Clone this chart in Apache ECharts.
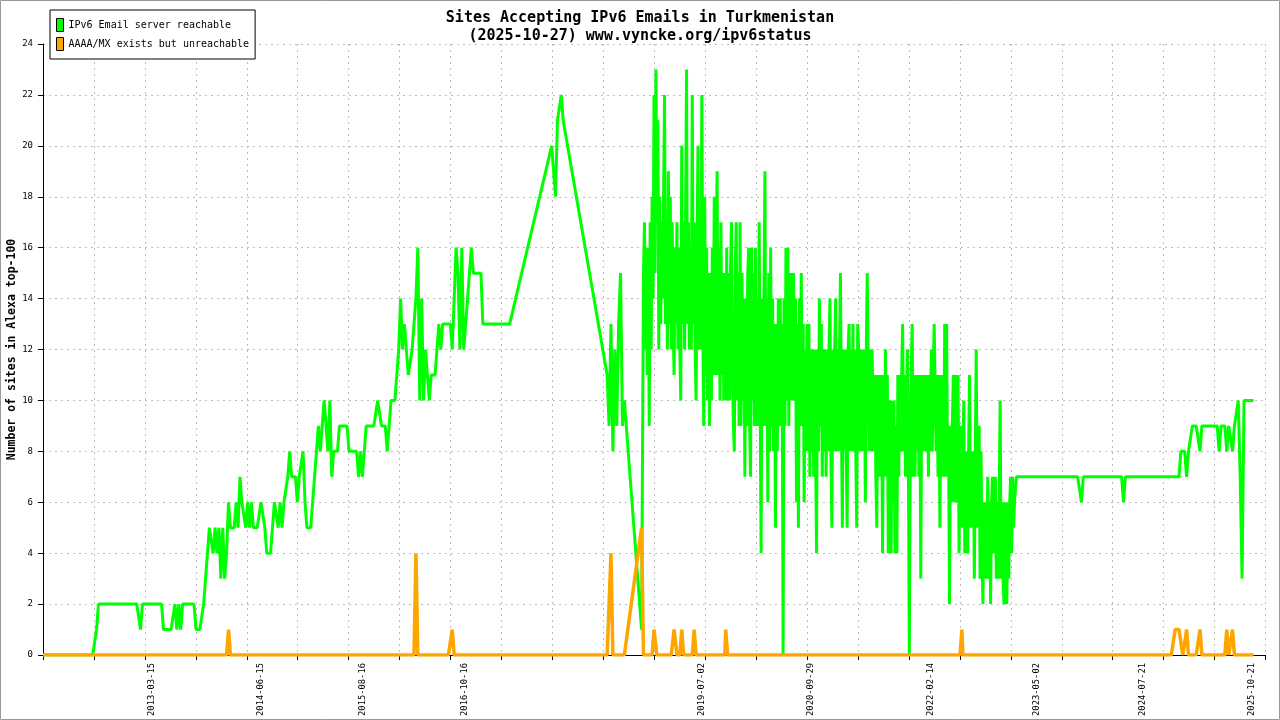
<!DOCTYPE html>
<html>
<head>
<meta charset="utf-8">
<title>Sites Accepting IPv6 Emails in Turkmenistan</title>
<script src="https://cdn.jsdelivr.net/npm/echarts@6/dist/echarts.min.js"></script>
<style>
html, body { margin: 0; padding: 0; background: #fff; }
#chart { width: 1280px; height: 720px; }
</style>
</head>
<body>
<div id="chart"></div>
<script>
// three runs of readings; null = no reading (the line is joined over the gap)
var earlyStart = '2011-12-16', earlyStep = 8;   // every 8 days
var denseStart = '2018-11-01', denseStep = 4;   // every 4 days
var lateStart = '2023-02-08', lateStep = 8;     // every 8 days
var axisStart = '2011-12-16';
var axisEnd = '2025-12-16';
var dateLabels = ['2013-03-15', '2014-06-15', '2015-08-16', '2016-10-16', '2019-07-02',
    '2020-09-29', '2022-02-14', '2023-05-02', '2024-07-21', '2025-10-21'];

// IPv6 Email server reachable
var reachEarly1 = [
    0,0,0,0,0,0,0,0,0,0,
    0,0,0,0,0,0,0,0,0,0,
    0,0,0,0,0,0,0,0,1,2,
    2,2,2,2,2,2,2,2,2,2,
    2,2,2,2,2,2,2,2,2,2,
    2,1,2,2,2,2,2,2,2,2,
    2,2,2,1,1,1,1,1,1,2,
    1,2,1,2,2,2,2,2,2,2,
    1,1,1,1,2,3,4,5,5,4,
    5,4,5,3,5,3,4,6,5,5
];
var reachEarly2 = [
    5,6,5,7,6,6,5,6,5,6,
    5,5,5,5,6,6,5,4,4,4,
    5,6,6,5,6,5,6,6,7,8,
    7,7,7,6,7,7,8,6,5,5,
    5,6,7,8,9,8,9,10,9,8,
    10,7,8,8,8,9,9,9,9,9,
    8,8,8,8,8,7,8,7,7,9,
    9,9,9,9,9,10,10,9,9,9,
    8,9,10,10,10,10,12,14,12,13,
    12,11,11,12,12,14,16,10,14,10
];
var reachEarly3 = [
    12,11,10,11,11,11,12,13,12,13,
    13,13,13,13,12,12,16,15,12,16,
    12,13,14,15,16,15,15,15,15,15,
    13,13,13,13,13,13,13,13,13,13,
    13,13,13,13,13,13,null,null,null,null,
    null,null,null,null,null,null,null,null,null,null,
    null,null,null,null,null,null,20,19,18,21,
    21,22,21,null,null,null,null,null,null,null,
    null,null,null,null,null,null,null,null,null,null,
    null,null,null,null,null,11,9,13,8,12
];
var reachEarly4 = [
    9,13,15,9,10,null,null,null,null,null,
    null,null,null,1
];
var reachDense1 = [
    15,17,12,16,11,16,9,17,12,18,
    14,22,15,23,17,21,12,18,13,17,
    14,18,22,13,17,12,19,13,18,12,
    17,13,11,16,13,17,12,16,12,10,
    20,13,17,12,17,23,13,17,12,16,
    12,22,13,17,12,10,16,20,12,16,
    12,22,13,9,18,11,16,10,15,9,
    15,10,16,11,18,11,16,19,11,16,
    10,17,11,15,10,15,10,16,10,15,
    10,15,17,11,9,8,15,17,10,15
];
var reachDense2 = [
    9,17,9,15,10,14,7,14,9,15,
    16,9,7,16,10,15,9,16,9,14,
    9,17,10,4,14,9,14,19,9,14,
    6,15,8,16,9,14,8,13,5,13,
    8,14,9,14,9,13,0,14,9,16,
    10,16,9,15,10,15,10,15,10,14,
    6,13,5,14,9,15,9,13,6,12,
    8,13,8,13,7,12,8,12,7,12,
    8,4,12,8,14,9,13,7,12,8,
    12,7,12,8,12,14,8,5,12,8
];
var reachDense3 = [
    12,14,8,12,8,12,15,9,5,12,
    8,12,8,5,12,13,8,12,8,13,
    8,12,8,5,13,12,8,12,8,12,
    8,12,6,12,15,15,8,12,8,12,
    12,8,11,7,5,11,7,11,7,11,
    4,11,7,12,7,11,4,10,7,4,
    10,6,10,4,9,4,11,7,11,8,
    11,13,8,11,7,10,12,8,0,8,
    11,13,7,11,7,11,8,11,7,11,
    3,11,8,11,8,11,8,11,7,11
];
var reachDense4 = [
    8,12,8,11,13,13,8,11,7,11,
    5,11,7,11,7,13,7,13,7,9,
    2,9,6,9,11,6,11,6,8,11,
    4,8,9,5,8,10,4,8,5,4,
    8,11,5,8,5,8,3,8,12,5,
    5,9,3,8,4,2,6,3,6,3,
    7,3,6,2,6,7,4,6,7,3,
    6,3,6,10,3,6,3,2,6,3,
    2,6,3,6,7,4,7,5,6
];
var reachLate1 = [
    7,
    7,7,7,7,7,7,7,7,7,7,
    7,7,7,7,7,7,7,7,7,7,
    7,7,7,7,7,7,7,7,7,7,
    7,7,7,6,7,7,7,7,7,7,
    7,7,7,7,7,7,7,7,7,7,
    7,7,7,7,7,6,7,7,7,7,
    7,7,7,7,7,7,7,7,7,7,
    7,7,7,7,7,7,7,7,7,7,
    7,7,7,7,7,8,8,8,7,8
];
var reachLate2 = [
    8,9,9,9,9,8,9,9,9,9,
    9,9,9,9,9,8,9,9,9,8,
    9,9,8,9,9,10,7,3,10,10,
    10,10,10,10
];

// AAAA/MX exists but unreachable
var unreachEarly1 = [
    0,0,0,0,0,0,0,0,0,0,
    0,0,0,0,0,0,0,0,0,0,
    0,0,0,0,0,0,0,0,0,0,
    0,0,0,0,0,0,0,0,0,0,
    0,0,0,0,0,0,0,0,0,0,
    0,0,0,0,0,0,0,0,0,0,
    0,0,0,0,0,0,0,0,0,0,
    0,0,0,0,0,0,0,0,0,0,
    0,0,0,0,0,0,0,0,0,0,
    0,0,0,0,0,0,0,1,0,0
];
var unreachEarly2 = [
    0,0,0,0,0,0,0,0,0,0,
    0,0,0,0,0,0,0,0,0,0,
    0,0,0,0,0,0,0,0,0,0,
    0,0,0,0,0,0,0,0,0,0,
    0,0,0,0,0,0,0,0,0,0,
    0,0,0,0,0,0,0,0,0,0,
    0,0,0,0,0,0,0,0,0,0,
    0,0,0,0,0,0,0,0,0,0,
    0,0,0,0,0,0,0,0,0,0,
    0,0,0,0,0,4,0,0,0,0
];
var unreachEarly3 = [
    0,0,0,0,0,0,0,0,0,0,
    0,0,0,0,1,0,0,0,0,0,
    0,0,0,0,0,0,0,0,0,0,
    0,0,0,0,0,0,0,0,0,0,
    0,0,0,0,0,0,null,null,null,null,
    null,null,null,null,null,null,null,null,null,null,
    null,null,null,null,null,null,0,0,0,0,
    0,0,0,null,null,null,null,null,null,null,
    null,null,null,null,null,null,null,null,null,null,
    null,null,null,null,null,0,0,4,0,0
];
var unreachEarly4 = [
    0,0,0,0,0,null,null,null,null,null,
    null,null,null,5
];
var unreachDense1 = [
    0,0,0,0,0,0,0,0,0,0,
    0,1,1,1,0,0,0,0,0,0,
    0,0,0,0,0,0,0,0,0,0,
    0,0,1,1,1,0,0,0,0,0,
    1,1,0,0,0,0,0,0,0,0,
    0,0,0,1,1,0,0,0,0,0,
    0,0,0,0,0,0,0,0,0,0,
    0,0,0,0,0,0,0,0,0,0,
    0,0,0,0,0,0,1,1,0,0,
    0,0,0,0,0,0,0,0,0,0
];
var unreachDense2 = [
    0,0,0,0,0,0,0,0,0,0,
    0,0,0,0,0,0,0,0,0,0,
    0,0,0,0,0,0,0,0,0,0,
    0,0,0,0,0,0,0,0,0,0,
    0,0,0,0,0,0,0,0,0,0,
    0,0,0,0,0,0,0,0,0,0,
    0,0,0,0,0,0,0,0,0,0,
    0,0,0,0,0,0,0,0,0,0,
    0,0,0,0,0,0,0,0,0,0,
    0,0,0,0,0,0,0,0,0,0
];
var unreachDense3 = [
    0,0,0,0,0,0,0,0,0,0,
    0,0,0,0,0,0,0,0,0,0,
    0,0,0,0,0,0,0,0,0,0,
    0,0,0,0,0,0,0,0,0,0,
    0,0,0,0,0,0,0,0,0,0,
    0,0,0,0,0,0,0,0,0,0,
    0,0,0,0,0,0,0,0,0,0,
    0,0,0,0,0,0,0,0,0,0,
    0,0,0,0,0,0,0,0,0,0,
    0,0,0,0,0,0,0,0,0,0
];
var unreachDense4 = [
    0,0,0,0,0,0,0,0,0,0,
    0,0,0,0,0,0,0,0,0,0,
    0,0,0,0,0,0,0,0,0,0,
    0,0,0,1,0,0,0,0,0,0,
    0,0,0,0,0,0,0,0,0,0,
    0,0,0,0,0,0,0,0,0,0,
    0,0,0,0,0,0,0,0,0,0,
    0,0,0,0,0,0,0,0,0,0,
    0,0,0,0,0,0,0,0,0
];
var unreachLate1 = [
    0,
    0,0,0,0,0,0,0,0,0,0,
    0,0,0,0,0,0,0,0,0,0,
    0,0,0,0,0,0,0,0,0,0,
    0,0,0,0,0,0,0,0,0,0,
    0,0,0,0,0,0,0,0,0,0,
    0,0,0,0,0,0,0,0,0,0,
    0,0,0,0,0,0,0,0,0,0,
    0,0,0,0,0,0,0,0,0,0,
    0,0,1,1,1,1,0,0,1,0
];
var unreachLate2 = [
    0,0,0,0,0,1,0,0,0,0,
    0,0,0,0,0,0,0,0,0,1,
    0,0,1,0,0,0,0,0,0,0,
    0,0,0,0
];

function utc(d) { return Date.parse(d + 'T00:00:00Z'); }
function run(vals, start, step) {
    var t0 = utc(start);
    return vals.map(function(v, i) { return [t0 + i * step * 86400000, v]; });
}
function pad(n) { return n < 10 ? '0' + n : '' + n; }
function fmtDate(v) {
    var d = new Date(v);
    return d.getUTCFullYear() + '-' + pad(d.getUTCMonth() + 1) + '-' + pad(d.getUTCDate());
}

var reachable = [].concat(
    run([].concat(reachEarly1, reachEarly2, reachEarly3, reachEarly4), earlyStart, earlyStep),
    run([].concat(reachDense1, reachDense2, reachDense3, reachDense4), denseStart, denseStep),
    run([].concat(reachLate1, reachLate2), lateStart, lateStep));
var unreachable = [].concat(
    run([].concat(unreachEarly1, unreachEarly2, unreachEarly3, unreachEarly4), earlyStart, earlyStep),
    run([].concat(unreachDense1, unreachDense2, unreachDense3, unreachDense4), denseStart, denseStep),
    run([].concat(unreachLate1, unreachLate2), lateStart, lateStep));

var tMin = utc(axisStart), tMax = utc(axisEnd);
var tickValues = [];
for (var k = 0; k <= 24; k++) tickValues.push(tMin + (tMax - tMin) * k / 24);
var labelValues = dateLabels.map(utc);

var font = 'DejaVu Sans Mono';
var grid = { color: '#bbbbbb', type: [2, 4], width: 1 };

var chart = echarts.init(document.getElementById('chart'));
chart.setOption({
    animation: false,
    backgroundColor: '#fff',
    textStyle: { fontFamily: font },
    graphic: [{
        type: 'rect', silent: true,
        shape: { x: 0.5, y: 0.5, width: 1279, height: 719 },
        style: { fill: 'none', stroke: '#999', lineWidth: 1 }
    }],
    title: {
        text: 'Sites Accepting IPv6 Emails in Turkmenistan\n(2025-10-27) www.vyncke.org/ipv6status',
        left: 'center',
        top: 4,
        textStyle: { fontFamily: font, fontSize: 15, fontWeight: 'bold', lineHeight: 18, color: '#000' }
    },
    legend: {
        left: 50, top: 10,
        orient: 'vertical',
        icon: 'rect',
        itemWidth: 7, itemHeight: 13, itemGap: 5,
        padding: [8, 6, 8, 6],
        backgroundColor: '#fff',
        borderColor: '#000', borderWidth: 1, borderRadius: 0,
        itemStyle: { borderColor: '#000', borderWidth: 1 },
        textStyle: { fontFamily: font, fontSize: 10, color: '#000' },
        data: ['IPv6 Email server reachable', 'AAAA/MX exists but unreachable']
    },
    grid: { left: 43, right: 14.5, top: 44, bottom: 65, outerBoundsMode: 'none' },
    xAxis: {
        type: 'value',
        min: tMin, max: tMax,
        axisLine: { lineStyle: { color: '#000', width: 1 } },
        axisTick: { customValues: tickValues, length: 5, lineStyle: { color: '#000' } },
        axisLabel: {
            customValues: labelValues, rotate: 90, fontFamily: font, fontSize: 8.8,
            color: '#000', margin: 8, formatter: fmtDate
        },
        splitLine: { show: true, lineStyle: grid }
    },
    yAxis: {
        type: 'value',
        min: 0, max: 24, interval: 2,
        name: 'Number of sites in Alexa top-100',
        nameLocation: 'middle', nameGap: 25, nameRotate: 90, nameMoveOverlap: false,
        nameTextStyle: { fontFamily: font, fontSize: 11.5, fontWeight: 'bold', color: '#000' },
        axisLine: { show: true, lineStyle: { color: '#000', width: 1 } },
        axisTick: { show: true, length: 5, lineStyle: { color: '#000' } },
        axisLabel: { fontFamily: font, fontSize: 9, color: '#000', margin: 10 },
        splitLine: { show: true, lineStyle: grid }
    },
    series: [{
        name: 'IPv6 Email server reachable',
        type: 'line',
        data: reachable,
        showSymbol: false,
        connectNulls: true,
        lineStyle: { color: '#00ff00', width: 3 },
        itemStyle: { color: '#00ff00' }
    }, {
        name: 'AAAA/MX exists but unreachable',
        type: 'line',
        data: unreachable,
        showSymbol: false,
        connectNulls: true,
        lineStyle: { color: '#ffa500', width: 3.5 },
        itemStyle: { color: '#ffa500' }
    }]
});
</script>
</body>
</html>
